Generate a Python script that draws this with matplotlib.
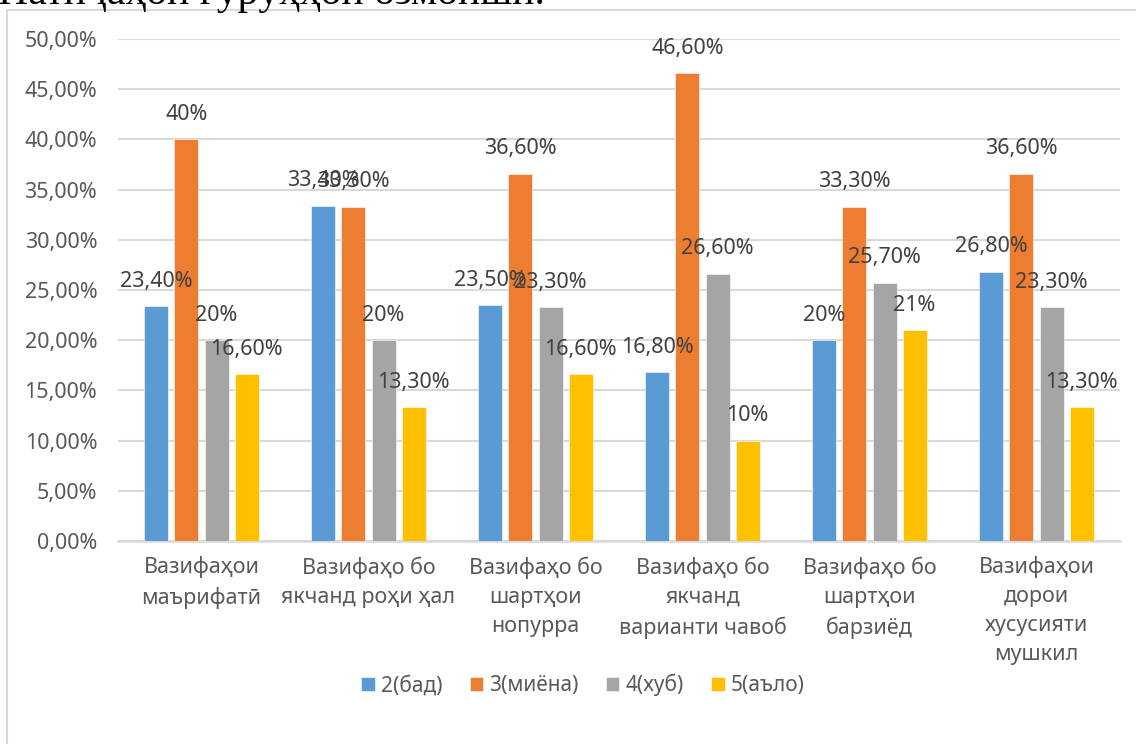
import numpy as np
import matplotlib.pyplot as plt
from matplotlib.patches import Rectangle

plt.rcParams['font.family'] = ['Noto Sans', 'DejaVu Sans']

categories = [
    "Вазифаҳои\nмаърифатӣ",
    "Вазифаҳо бо\nякчанд роҳи ҳал",
    "Вазифаҳо бо\nшартҳои\nнопурра",
    "Вазифаҳо бо\nякчанд\nварианти чавоб",
    "Вазифаҳо бо\nшартҳои\nбарзиёд",
    "Вазифаҳои\nдорои\nхусусияти\nмушкил",
]
series_names = ["2(бад)", "3(миёна)", "4(хуб)", "5(аъло)"]
bad = [23.4, 33.4, 23.5, 16.8, 20.0, 26.8]
average = [40.0, 33.3, 36.6, 46.6, 33.3, 36.6]
good = [20.0, 20.0, 23.3, 26.6, 25.7, 23.3]
excellent = [16.6, 13.3, 16.6, 10.0, 21.0, 13.3]
colors = ["#5B9BD5", "#ED7D31", "#A5A5A5", "#FFC000"]
yticks = np.arange(0, 51, 5)

TXT = "#595959"
LBL = "#404040"
GRID = "#D9D9D9"


def fmt_label(v):
    if float(v).is_integer():
        return f"{int(v)}%"
    return f"{v:.2f}%".replace(".", ",")


fig = plt.figure(figsize=(11.36, 7.44), dpi=100)

# chart frame (cut off at right/bottom like the source)
fig.patches.append(Rectangle((7 / 1136, -0.2), 1.5, 1.2 - 10 / 744,
                             transform=fig.transFigure, fill=False,
                             edgecolor=GRID, linewidth=1.5, zorder=0))

# cut-off heading above the chart
fig.text(-0.002, 1 - 4 / 744, "Натиҷаҳои гурӯҳҳои озмоишӣ.",
         family=['Liberation Serif', 'DejaVu Serif'], fontsize=30,
         color="black", ha="left", va="baseline")

ax = fig.add_axes([118 / 1136, 1 - 541 / 744, (1120 - 118) / 1136, (541 - 39) / 744])

x = np.arange(len(categories))
slot = 0.18
width = 0.144
all_series = [bad, average, good, excellent]

for i, (name, vals, col) in enumerate(zip(series_names, all_series, colors)):
    pos = x + (i - 1.5) * slot
    ax.bar(pos, vals, width=width, color=col, label=name, zorder=3,
           edgecolor="white", linewidth=0.4)
    for px, v in zip(pos, vals):
        ax.annotate(fmt_label(v), (px, v), xytext=(0, 18),
                    textcoords="offset points", ha="center", va="center",
                    fontsize=15.5, color=LBL, zorder=4)

ax.set_xlim(-0.5, len(categories) - 0.5)
ax.set_ylim(0, 50)
ax.set_yticks(yticks)
ax.set_yticklabels([f"{t:.2f}%".replace(".", ",") for t in yticks])
ax.set_xticks(x)
ax.set_xticklabels(categories, linespacing=1.5)

ax.tick_params(axis="y", length=0, pad=15, labelsize=15.5, labelcolor=TXT)
ax.tick_params(axis="x", length=0, pad=11, labelsize=15.5, labelcolor=TXT)
for lab in ax.get_xticklabels():
    lab.set_verticalalignment("top")
    lab.set_horizontalalignment("center")

ax.grid(axis="y", color=GRID, linewidth=1.5, zorder=0)
for s in ["top", "right", "left"]:
    ax.spines[s].set_visible(False)
ax.spines["bottom"].set_color(GRID)
ax.spines["bottom"].set_linewidth(1.8)

fig.legend(loc="center", bbox_to_anchor=(583 / 1136, 1 - 685 / 744), ncol=4,
           frameon=False, fontsize=15, labelcolor=TXT, handlelength=0.65,
           handleheight=0.65, handletextpad=0.3, columnspacing=1.3)

fig.savefig("out.png", dpi=100)
